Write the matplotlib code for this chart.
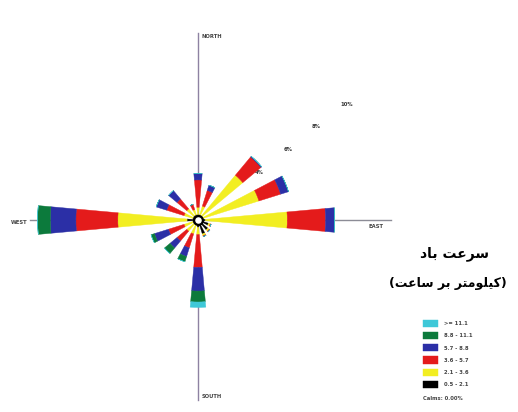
import numpy as np
import matplotlib
matplotlib.use("Agg")
import matplotlib.pyplot as plt

# ---------------- data ----------------
directions = ["N", "NNE", "NE", "ENE", "E", "ESE", "SE", "SSE",
              "S", "SSW", "SW", "WSW", "W", "WNW", "NW", "NNW"]
dir_deg = [0, 22.5, 45, 67.5, 90, 112.5, 135, 157.5,
           180, 202.5, 225, 247.5, 270, 292.5, 315, 337.5]

speed_bins = ["0.5 - 2.1", "2.1 - 3.6", "3.6 - 5.7", "5.7 - 8.8", "8.8 - 11.1", ">= 11.1"]
bin_colors = ["#000000", "#f2ee22", "#e41b1b", "#2b2fa6", "#0c7a3c", "#3ec8d8"]

# frequency (%) of each speed class per direction
f_0_5 = [0.3, 0.3, 0.3, 0.3, 0.4, 0.6, 0.7, 0.8, 0.4, 0.3, 0.3, 0.3, 0.6, 0.3, 0.3, 0.3]
f_2_1 = [0.4, 0.5, 2.9, 3.2, 4.5, 0.1, 0.1, 0.1, 0.4, 0.5, 0.5, 0.5, 3.8, 0.5, 0.5, 0.3]
f_3_6 = [1.5, 0.9, 1.3, 1.25, 2.1, 0.05, 0.05, 0.05, 1.8, 0.8, 0.7, 0.9, 2.3, 1.0, 0.7, 0.3]
f_5_7 = [0.35, 0.3, 0.05, 0.45, 0.5, 0.0, 0.0, 0.0, 1.3, 0.5, 0.5, 0.8, 1.4, 0.6, 0.6, 0.0]
f_8_8 = [0.0, 0.0, 0.0, 0.0, 0.0, 0.0, 0.0, 0.0, 0.6, 0.3, 0.4, 0.2, 0.7, 0.0, 0.0, 0.0]
f_11_1 = [0.0, 0.0, 0.0, 0.0, 0.0, 0.0, 0.0, 0.0, 0.3, 0.0, 0.0, 0.0, 0.0, 0.0, 0.0, 0.0]
series = [f_0_5, f_2_1, f_3_6, f_5_7, f_8_8, f_11_1]

ring_values = [4, 6, 8, 10]
ring_labels = ["4%", "6%", "8%", "10%"]
calms_text = "Calms: 0.00%"
title_line1 = "سرعت باد"
title_line2 = "(کیلومتر بر ساعت)"

# ---------------- simple Arabic/Persian shaping ----------------
FORMS = {  # iso, fin, ini, med
    "س": ("\uFEB1", "\uFEB2", "\uFEB3", "\uFEB4"),
    "ر": ("\uFEAD", "\uFEAE", None, None),
    "ع": ("\uFEC9", "\uFECA", "\uFECB", "\uFECC"),
    "ت": ("\uFE95", "\uFE96", "\uFE97", "\uFE98"),
    "ب": ("\uFE8F", "\uFE90", "\uFE91", "\uFE92"),
    "ا": ("\uFE8D", "\uFE8E", None, None),
    "د": ("\uFEA9", "\uFEAA", None, None),
    "ک": ("\uFB8E", "\uFB8F", "\uFB90", "\uFB91"),
    "ی": ("\uFBFC", "\uFBFD", "\uFBFE", "\uFBFF"),
    "ل": ("\uFEDD", "\uFEDE", "\uFEDF", "\uFEE0"),
    "و": ("\uFEED", "\uFEEE", None, None),
    "م": ("\uFEE1", "\uFEE2", "\uFEE3", "\uFEE4"),
}


def shape_rtl(s):
    out = []
    n = len(s)
    for i, ch in enumerate(s):
        if ch not in FORMS:
            out.append(ch)
            continue
        prev = s[i - 1] if i > 0 else None
        nxt = s[i + 1] if i < n - 1 else None
        jp = prev in FORMS and FORMS[prev][2] is not None
        jn = FORMS[ch][2] is not None and nxt in FORMS
        iso, fin, ini, med = FORMS[ch]
        if jp and jn:
            out.append(med)
        elif jp:
            out.append(fin)
        elif jn:
            out.append(ini)
        else:
            out.append(iso)
    vis = "".join(out)[::-1]
    mirror = {"(": ")", ")": "("}
    return "".join(mirror.get(c, c) for c in vis)


# ---------------- figure ----------------
W, H = 518, 412
fig = plt.figure(figsize=(W / 100, H / 100), dpi=100)
cx, cy = 198, 220
R = 195
ax = fig.add_axes([(cx - R) / W, 1 - (cy + R) / H, 2 * R / W, 2 * R / H],
                  projection="polar")
ax.set_theta_zero_location("N")
ax.set_theta_direction(-1)
ax.set_ylim(0, 10.7)
ax.patch.set_alpha(0)
ax.spines["polar"].set_visible(False)
ax.grid(False)
ax.set_xticks([])

theta = np.deg2rad(dir_deg)
width = np.deg2rad(10.3)
bottom = np.zeros(len(theta))
bars = []
for vals, col in zip(series, bin_colors):
    vals = np.array(vals)
    b = ax.bar(theta, vals, width=width, bottom=bottom, color=col,
               edgecolor=col, linewidth=0.3, zorder=3)
    bars.append(b)
    bottom = bottom + vals

# cross axes lines
ax.plot([0, 0], [0, 10.25], color="#8e82a2", lw=1.0, zorder=1, clip_on=False)
ax.plot([np.pi, np.pi], [0, 9.85], color="#8e82a2", lw=1.0, zorder=1, clip_on=False)
ax.plot([np.pi / 2, np.pi / 2], [0, 10.6], color="#8c8c96", lw=1.0, zorder=1, clip_on=False)
ax.plot([3 * np.pi / 2, 3 * np.pi / 2], [0, 9.2], color="#8c8c96", lw=1.0, zorder=1, clip_on=False)

# calm circle
ax.scatter([0], [0], s=40, facecolor="white", edgecolor="black", linewidth=1.6, zorder=6)

# ring labels
ax.set_rgrids(ring_values, labels=ring_labels, angle=51.5, fontsize=3.8,
              color="#333333", fontweight="bold")
for t in ax.get_yticklabels():
    t.set_zorder(7)

# compass labels
fs_small = 3.8
fig.text(202 / W, 1 - 36 / H, "NORTH", fontsize=fs_small, color="#444444",
         ha="left", va="center", fontweight="bold")
fig.text(202 / W, 1 - 397 / H, "SOUTH", fontsize=fs_small, color="#444444",
         ha="left", va="center", fontweight="bold")
fig.text(19 / W, 1 - 223 / H, "WEST", fontsize=fs_small, color="#444444",
         ha="center", va="center", fontweight="bold")
fig.text(376 / W, 1 - 226 / H, "EAST", fontsize=fs_small, color="#444444",
         ha="center", va="center", fontweight="bold")

# Persian title
fig.text(455 / W, 1 - 254 / H, shape_rtl(title_line1), fontsize=10,
         fontweight="bold", family="DejaVu Sans", ha="center", va="center")
fig.text(448 / W, 1 - 283 / H, shape_rtl(title_line2), fontsize=9,
         fontweight="bold", family="DejaVu Sans", ha="center", va="center")

# legend
handles = [b.patches[0] for b in bars][::-1]
labels = speed_bins[::-1]
leg = fig.legend(handles, labels, loc="upper left",
                 bbox_to_anchor=(423 / W, 1 - 320 / H), bbox_transform=fig.transFigure,
                 frameon=False, fontsize=3.8, handlelength=2.8, handleheight=1.7,
                 labelspacing=0.95, handletextpad=1.2, borderpad=0, borderaxespad=0)
for t in leg.get_texts():
    t.set_color("#444444")
    t.set_fontweight("bold")
fig.text(423 / W, 1 - 398 / H, calms_text, fontsize=3.8, color="#444444",
         ha="left", va="center", fontweight="bold")

fig.savefig("out.png", dpi=100)
